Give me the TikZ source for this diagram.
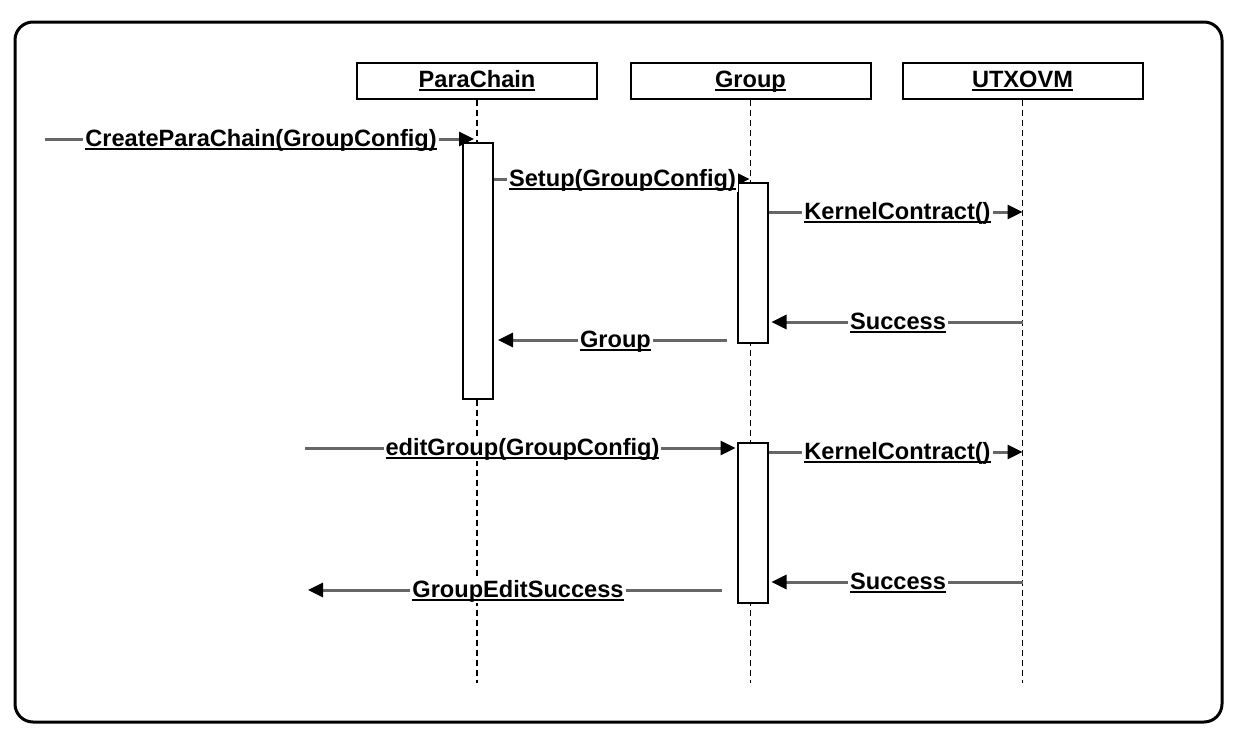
\documentclass[tikz,border=0pt]{standalone}
\usepackage{fontspec}
\setmainfont{Liberation Sans}
\usetikzlibrary{arrows.meta}
\newcommand\ulbl[1]{\setbox0\hbox{#1}\rlap{\rule[-3.6pt]{\wd0}{1.8pt}}\box0}
\begin{document}
\begin{tikzpicture}[x=1pt,y=-1pt,
  txt/.style={font=\fontsize{23.6}{28}\selectfont\bfseries},
  lbl/.style={txt, fill=white, inner xsep=2pt, inner ysep=1pt, anchor=base},
  msg/.style={draw=black!60, line width=3pt, -{Triangle[length=15pt,width=14pt,color=black]}},
  head/.style={draw, line width=2pt, minimum width=240pt, minimum height=36pt, inner sep=0pt, txt, text height=17pt, text depth=5pt},
  act/.style={draw, fill=white, line width=2pt, minimum width=30pt, inner sep=0pt},
  life/.style={line width=1.7pt, dash pattern=on 6pt off 4pt}]
\useasboundingbox (0,0) rectangle (1254,744);
\node[draw, line width=3pt, rounded corners=18pt, minimum width=1207pt, minimum height=700pt, inner sep=0pt] (frame) at (618.5,372) {};
% heads
\node[head] (pc) at (477,81) {\ulbl{ParaChain}};
\node[head] (gr) at (750.5,81) {\ulbl{Group}};
\node[head] (ux) at (1022.5,81) {\ulbl{UTXOVM}};
\coordinate (pcb) at (477,683);
\coordinate (grb) at (750.5,683);
\coordinate (uxb) at (1022.5,683);
\draw[life] (pc.south) -- (pcb);
\draw[life] (gr.south) -- (grb);
\draw[life] (ux.south) -- (uxb);
% activations
\node[act, minimum height=256pt] (a1) at (478,270.5) {};
\node[act, minimum height=160pt] (g1) at (752.5,263) {};
\node[act, minimum height=160pt] (g2) at (752.5,523) {};
% messages
\coordinate (m1) at (45,139);
\draw[msg, shorten >=3pt] (m1) -- (pc.south |- m1);
\node[lbl] at (261,146) {\ulbl{CreateParaChain(GroupConfig)}};

\coordinate (m2) at (0,179);
\draw[msg, shorten >=1pt] (a1.east |- m2) -- (gr.south |- m2);
\node[lbl] at (622.5,186) {\ulbl{Setup(GroupConfig)}};

\coordinate (m3) at (0,212);
\draw[msg] (g1.east |- m3) -- (ux.south |- m3);
\node[lbl] at (897.5,219) {\ulbl{KernelContract()}};

\coordinate (m4) at (0,322);
\draw[msg, shorten >=3pt] (ux.south |- m4) -- (g1.east |- m4);
\node[lbl] at (898,329) {\ulbl{Success}};

\coordinate (m5) at (0,340);
\draw[msg, shorten <=10pt, shorten >=4pt] (g1.west |- m5) -- (a1.east |- m5);
\node[lbl] at (615.5,347) {\ulbl{Group}};

\coordinate (m6) at (305,448);
\draw[msg, shorten >=1pt] (m6) -- (g2.west |- m6);
\node[lbl] at (522.5,455) {\ulbl{editGroup(GroupConfig)}};

\coordinate (m7) at (0,452);
\draw[msg] (g2.east |- m7) -- (ux.south |- m7);
\node[lbl] at (897.5,459) {\ulbl{KernelContract()}};

\coordinate (m8) at (0,582);
\draw[msg, shorten >=3pt] (ux.south |- m8) -- (g2.east |- m8);
\node[lbl] at (898,589) {\ulbl{Success}};

\coordinate (m9) at (308,590);
\draw[msg, shorten <=15pt] (g2.west |- m9) -- (m9);
\node[lbl] at (518,597) {\ulbl{GroupEditSuccess}};
\end{tikzpicture}
\end{document}
